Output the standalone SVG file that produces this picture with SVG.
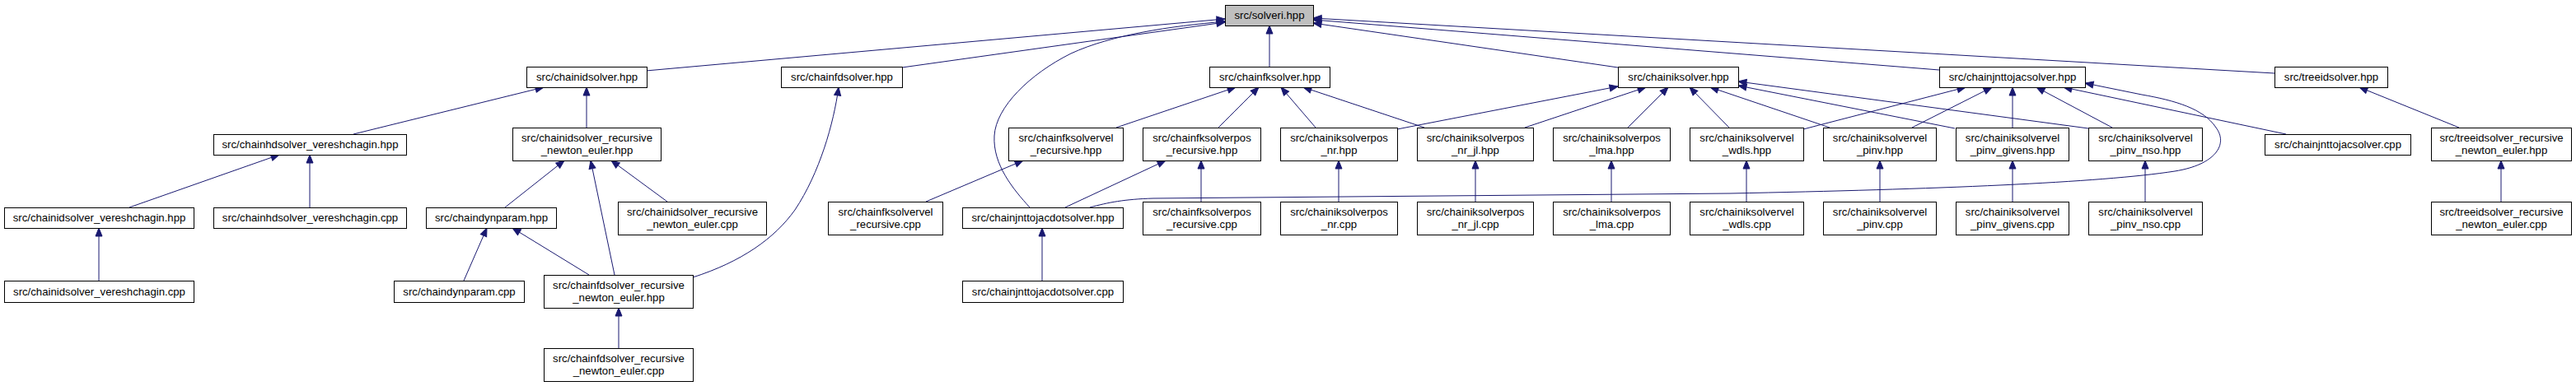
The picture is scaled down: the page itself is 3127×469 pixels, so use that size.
<svg xmlns="http://www.w3.org/2000/svg" width="3127" height="469" viewBox="0 0 3127 469">
<style>
.n rect{fill:#fff;stroke:#000;stroke-width:1}
.r rect{fill:#bfbfbf}
.n text{font-family:"Liberation Sans",Arial,sans-serif;font-size:13.2px;text-anchor:middle;fill:#000}
.e path{fill:none;stroke:#191970;stroke-width:1;marker-end:url(#a)}
</style>
<defs>
<marker id="a" markerUnits="userSpaceOnUse" markerWidth="12" markerHeight="10" refX="10" refY="4.5" orient="auto" overflow="visible"><path d="M0,0.5 L10,4.5 L0,8.5 Z" fill="#191970" stroke="#191970" stroke-width="1"/></marker>
</defs>
<rect width="3127" height="469" fill="#fff"/>
<g id="edges" class="e">
<path d="M784,86 L1487,23"/>
<path d="M1095,82 L1487,27"/>
<path d="M1250,252 C1230,230 1205,200 1207,165 C1209,130 1250,90 1300,65 C1350,42 1420,32 1487,26"/>
<path d="M1541,81 L1541,31"/>
<path d="M1964,82 L1594,28"/>
<path d="M2354,85 L1594,24"/>
<path d="M2761,89 L1594,22"/>
<path d="M429,163 L660,106"/>
<path d="M712,155 L712,106"/>
<path d="M157,252 L339,188"/>
<path d="M376,252 L376,188"/>
<path d="M120,341 L120,277"/>
<path d="M613,252 L685,195"/>
<path d="M746,334 L717,195"/>
<path d="M810,245 L742,195"/>
<path d="M563,341 L591,277"/>
<path d="M715,334 L622,277"/>
<path d="M841,337 C900,318 940,290 965,255 C995,210 1012,150 1018,106"/>
<path d="M751,423 L751,374"/>
<path d="M1355,155 L1500,106"/>
<path d="M1479,155 L1528,106"/>
<path d="M1597,155 L1555,106"/>
<path d="M1729,155 L1582,106"/>
<path d="M1293,252 L1415,195"/>
<path d="M1458,245 L1458,195"/>
<path d="M1124,245 L1242,195"/>
<path d="M1265,341 L1265,277"/>
<path d="M1696,157 L1964,105"/>
<path d="M1851,155 L1998,106"/>
<path d="M1976,155 L2025,106"/>
<path d="M2099,155 L2051,106"/>
<path d="M2221,155 L2076,106"/>
<path d="M2373,156 L2110,104"/>
<path d="M2535,156 L2110,99"/>
<path d="M2189,157 L2386,106"/>
<path d="M2321,155 L2418,106"/>
<path d="M2443,155 L2443,106"/>
<path d="M2564,155 L2472,106"/>
<path d="M2775,163 L2505,106"/>
<path d="M1323,252 C1345,246 1365,242 1400,241 L2100,235 C2350,230 2550,222 2640,208 C2690,200 2705,175 2690,155 C2675,132 2640,122 2600,115 L2531,101"/>
<path d="M2985,155 L2864,106"/>
<path d="M3036,245 L3036,195"/>
<path d="M1625,245 L1625,195"/>
<path d="M1791,245 L1791,195"/>
<path d="M1956,245 L1956,195"/>
<path d="M2120,245 L2120,195"/>
<path d="M2282,245 L2282,195"/>
<path d="M2443,245 L2443,195"/>
<path d="M2604,245 L2604,195"/>
</g>
<g id="n0" class="n r"><rect x="1487.5" y="6.5" width="107" height="25"/><text x="1541" y="23">src/solveri.hpp</text></g>
<g id="n1" class="n"><rect x="639.5" y="81.5" width="146" height="25"/><text x="712.5" y="98">src/chainidsolver.hpp</text></g>
<g id="n2" class="n"><rect x="948.5" y="81.5" width="147" height="25"/><text x="1022" y="98">src/chainfdsolver.hpp</text></g>
<g id="n3" class="n"><rect x="1468.5" y="81.5" width="146" height="25"/><text x="1541.5" y="98">src/chainfksolver.hpp</text></g>
<g id="n4" class="n"><rect x="1964.5" y="81.5" width="146" height="25"/><text x="2037.5" y="98">src/chainiksolver.hpp</text></g>
<g id="n5" class="n"><rect x="2354.5" y="81.5" width="177" height="25"/><text x="2443" y="98">src/chainjnttojacsolver.hpp</text></g>
<g id="n6" class="n"><rect x="2761.5" y="81.5" width="137" height="25"/><text x="2830" y="98">src/treeidsolver.hpp</text></g>
<g id="n7" class="n"><rect x="259.5" y="163.5" width="234" height="25"/><text x="376.5" y="180">src/chainhdsolver_vereshchagin.hpp</text></g>
<g id="n8" class="n"><rect x="622.5" y="155.5" width="180" height="40"/><text x="712.5" y="171.5">src/chainidsolver_recursive</text><text x="712.5" y="186.5">_newton_euler.hpp</text></g>
<g id="n9" class="n"><rect x="1224.5" y="155.5" width="139" height="40"/><text x="1294" y="171.5">src/chainfksolvervel</text><text x="1294" y="186.5">_recursive.hpp</text></g>
<g id="n10" class="n"><rect x="1387.5" y="155.5" width="143" height="40"/><text x="1459" y="171.5">src/chainfksolverpos</text><text x="1459" y="186.5">_recursive.hpp</text></g>
<g id="n11" class="n"><rect x="1554.5" y="155.5" width="142" height="40"/><text x="1625.5" y="171.5">src/chainiksolverpos</text><text x="1625.5" y="186.5">_nr.hpp</text></g>
<g id="n12" class="n"><rect x="1720.5" y="155.5" width="141" height="40"/><text x="1791" y="171.5">src/chainiksolverpos</text><text x="1791" y="186.5">_nr_jl.hpp</text></g>
<g id="n13" class="n"><rect x="1885.5" y="155.5" width="142" height="40"/><text x="1956.5" y="171.5">src/chainiksolverpos</text><text x="1956.5" y="186.5">_lma.hpp</text></g>
<g id="n14" class="n"><rect x="2051.5" y="155.5" width="138" height="40"/><text x="2120.5" y="171.5">src/chainiksolvervel</text><text x="2120.5" y="186.5">_wdls.hpp</text></g>
<g id="n15" class="n"><rect x="2213.5" y="155.5" width="137" height="40"/><text x="2282" y="171.5">src/chainiksolvervel</text><text x="2282" y="186.5">_pinv.hpp</text></g>
<g id="n16" class="n"><rect x="2374.5" y="155.5" width="137" height="40"/><text x="2443" y="171.5">src/chainiksolvervel</text><text x="2443" y="186.5">_pinv_givens.hpp</text></g>
<g id="n17" class="n"><rect x="2535.5" y="155.5" width="138" height="40"/><text x="2604.5" y="171.5">src/chainiksolvervel</text><text x="2604.5" y="186.5">_pinv_nso.hpp</text></g>
<g id="n18" class="n"><rect x="2749.5" y="163.5" width="177" height="25"/><text x="2838" y="180">src/chainjnttojacsolver.cpp</text></g>
<g id="n19" class="n"><rect x="2951.5" y="155.5" width="170" height="40"/><text x="3036.5" y="171.5">src/treeidsolver_recursive</text><text x="3036.5" y="186.5">_newton_euler.hpp</text></g>
<g id="n20" class="n"><rect x="5.5" y="252.5" width="230" height="25"/><text x="120.5" y="269">src/chainidsolver_vereshchagin.hpp</text></g>
<g id="n21" class="n"><rect x="259.5" y="252.5" width="234" height="25"/><text x="376.5" y="269">src/chainhdsolver_vereshchagin.cpp</text></g>
<g id="n22" class="n"><rect x="517.5" y="252.5" width="158" height="25"/><text x="596.5" y="269">src/chaindynparam.hpp</text></g>
<g id="n23" class="n"><rect x="750.5" y="245.5" width="180" height="40"/><text x="840.5" y="261.5">src/chainidsolver_recursive</text><text x="840.5" y="276.5">_newton_euler.cpp</text></g>
<g id="n24" class="n"><rect x="1005.5" y="245.5" width="139" height="40"/><text x="1075" y="261.5">src/chainfksolvervel</text><text x="1075" y="276.5">_recursive.cpp</text></g>
<g id="n25" class="n"><rect x="1168.5" y="252.5" width="195" height="25"/><text x="1266" y="269">src/chainjnttojacdotsolver.hpp</text></g>
<g id="n26" class="n"><rect x="1387.5" y="245.5" width="143" height="40"/><text x="1459" y="261.5">src/chainfksolverpos</text><text x="1459" y="276.5">_recursive.cpp</text></g>
<g id="n27" class="n"><rect x="1554.5" y="245.5" width="142" height="40"/><text x="1625.5" y="261.5">src/chainiksolverpos</text><text x="1625.5" y="276.5">_nr.cpp</text></g>
<g id="n28" class="n"><rect x="1720.5" y="245.5" width="141" height="40"/><text x="1791" y="261.5">src/chainiksolverpos</text><text x="1791" y="276.5">_nr_jl.cpp</text></g>
<g id="n29" class="n"><rect x="1885.5" y="245.5" width="142" height="40"/><text x="1956.5" y="261.5">src/chainiksolverpos</text><text x="1956.5" y="276.5">_lma.cpp</text></g>
<g id="n30" class="n"><rect x="2051.5" y="245.5" width="138" height="40"/><text x="2120.5" y="261.5">src/chainiksolvervel</text><text x="2120.5" y="276.5">_wdls.cpp</text></g>
<g id="n31" class="n"><rect x="2213.5" y="245.5" width="137" height="40"/><text x="2282" y="261.5">src/chainiksolvervel</text><text x="2282" y="276.5">_pinv.cpp</text></g>
<g id="n32" class="n"><rect x="2374.5" y="245.5" width="137" height="40"/><text x="2443" y="261.5">src/chainiksolvervel</text><text x="2443" y="276.5">_pinv_givens.cpp</text></g>
<g id="n33" class="n"><rect x="2535.5" y="245.5" width="138" height="40"/><text x="2604.5" y="261.5">src/chainiksolvervel</text><text x="2604.5" y="276.5">_pinv_nso.cpp</text></g>
<g id="n34" class="n"><rect x="2951.5" y="245.5" width="170" height="40"/><text x="3036.5" y="261.5">src/treeidsolver_recursive</text><text x="3036.5" y="276.5">_newton_euler.cpp</text></g>
<g id="n35" class="n"><rect x="5.5" y="341.5" width="230" height="26"/><text x="120.5" y="358.5">src/chainidsolver_vereshchagin.cpp</text></g>
<g id="n36" class="n"><rect x="478.5" y="341.5" width="158" height="26"/><text x="557.5" y="358.5">src/chaindynparam.cpp</text></g>
<g id="n37" class="n"><rect x="660.5" y="334.5" width="181" height="40"/><text x="751" y="350.5">src/chainfdsolver_recursive</text><text x="751" y="365.5">_newton_euler.hpp</text></g>
<g id="n38" class="n"><rect x="1168.5" y="341.5" width="195" height="26"/><text x="1266" y="358.5">src/chainjnttojacdotsolver.cpp</text></g>
<g id="n39" class="n"><rect x="660.5" y="423.5" width="181" height="40"/><text x="751" y="439.5">src/chainfdsolver_recursive</text><text x="751" y="454.5">_newton_euler.cpp</text></g>
</svg>
